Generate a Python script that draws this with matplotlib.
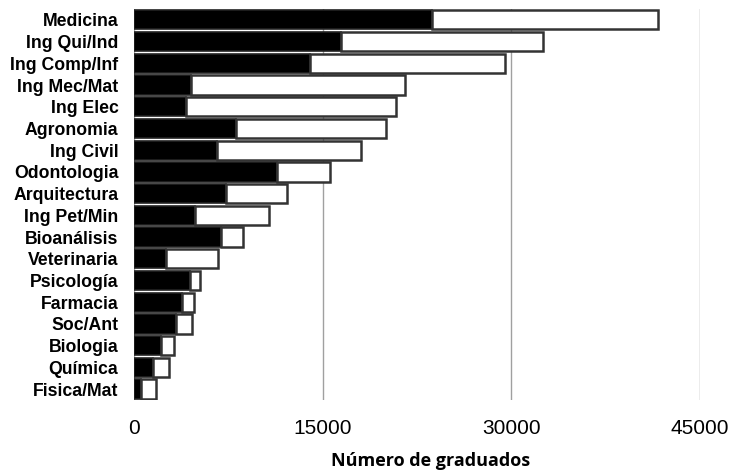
import matplotlib
matplotlib.use("Agg")
import matplotlib.pyplot as plt
import numpy as np

carreras = ["Medicina", "Ing Qui/Ind", "Ing Comp/Inf", "Ing Mec/Mat", "Ing Elec",
            "Agronomia", "Ing Civil", "Odontologia", "Arquitectura", "Ing Pet/Min",
            "Bioanálisis", "Veterinaria", "Psicología", "Farmacia", "Soc/Ant",
            "Biologia", "Química", "Fisica/Mat"]
# black segment and total length of each bar
parte_negra = [23700, 16400, 13950, 4500, 4100, 8050, 6600, 11350, 7300, 4850,
               6900, 2500, 4400, 3750, 3300, 2100, 1450, 550]
total = [41700, 32500, 29500, 21550, 20800, 20000, 18000, 15600, 12100, 10700,
         8600, 6650, 5250, 4750, 4550, 3150, 2750, 1700]
xticks = [0, 15000, 30000, 45000]

resto = np.array(total) - np.array(parte_negra)
y = np.arange(len(carreras))

fig = plt.figure(figsize=(7.47, 4.72), dpi=100)
ax = fig.add_axes([0.18, 0.1525, 0.757, 0.8285])

ax.barh(y, parte_negra, height=0.89, color="black", edgecolor="#222222", linewidth=1.2, zorder=3)
ax.barh(y, resto, left=parte_negra, height=0.89, color="white", edgecolor="#333333",
        linewidth=1.8, zorder=3)

ax.set_xlim(0, 45000)
ax.set_ylim(len(carreras) - 0.5, -0.5)
ax.set_xticks(xticks)
ax.set_xticklabels([str(t) for t in xticks], fontsize=15, family="Liberation Sans")
ax.set_yticks(y)
ax.set_yticklabels(carreras, fontsize=12.7, fontweight="bold", family="Liberation Sans")
ax.tick_params(length=0)
ax.tick_params(axis="x", pad=14)
ax.tick_params(axis="y", pad=11.5)
ax.xaxis.grid(True, color="#a0a0a0", linewidth=1)
ax.set_axisbelow(True)
for s in ax.spines.values():
    s.set_visible(False)

fig.text(431 / 747, 1 - 461 / 472, "Número de graduados", fontsize=13, fontweight="bold",
         family="Open Sans", ha="center", va="center")

fig.savefig("out.png", dpi=100)
